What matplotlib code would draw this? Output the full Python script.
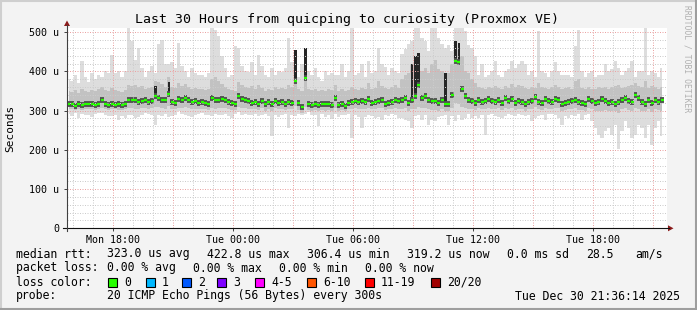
import matplotlib
matplotlib.use('Agg')
import matplotlib.pyplot as plt
import matplotlib.dates as mdates
from matplotlib.patches import Rectangle, Polygon
from matplotlib.lines import Line2D
from matplotlib.ticker import FixedLocator, FuncFormatter
import numpy as np
import pandas as pd

# ---- data (10 minute steps, microseconds) ----
start = pd.Timestamp('2025-12-29 15:42')
step_min = 10

median = [318, 316, 313, 317, 315, 318, 316, 317, 315, 317,
          326, 317, 315, 316, 315, 316, 314, 318, 328, 327,
          326, 322, 325, 327, 323, 325, 337, 333, 328, 326,
          343, 322, 320, 330, 328, 333, 327, 322, 324, 320,
          322, 320, 318, 332, 326, 328, 330, 328, 322, 320,
          317, 337, 330, 328, 325, 320, 322, 318, 325, 316,
          322, 318, 325, 320, 323, 317, 322, 320, 375, 320,
          309, 383, 318, 315, 316, 314, 317, 316, 318, 315,
          331, 314, 316, 313, 320, 322, 324, 322, 324, 321,
          330, 320, 322, 325, 328, 318, 320, 323, 328, 324,
          326, 332, 320, 328, 337, 366, 332, 337, 328, 325,
          324, 320, 326, 316, 318, 340, 426, 424, 354, 337,
          328, 324, 320, 326, 322, 325, 330, 324, 322, 326,
          320, 332, 325, 330, 320, 324, 322, 318, 322, 325,
          334, 322, 320, 330, 325, 322, 330, 328, 318, 320,
          322, 324, 328, 322, 320, 318, 330, 324, 320, 322,
          330, 325, 320, 322, 318, 322, 328, 332, 325, 322,
          341, 333, 322, 318, 328, 320, 326, 322, 326]

smoke_max = [380, 375, 392, 370, 426, 385, 372, 395, 380, 390,
             385, 400, 395, 443, 395, 400, 385, 400, 511, 478,
             430, 460, 408, 385, 400, 415, 395, 470, 480, 420,
             418, 425, 410, 472, 415, 400, 385, 410, 395, 390,
             392, 385, 395, 511, 505, 490, 440, 410, 385, 390,
             465, 460, 415, 400, 398, 425, 392, 443, 415, 390,
             385, 410, 392, 400, 398, 410, 485, 425, 450, 385,
             418, 460, 400, 392, 410, 385, 375, 400, 390, 395,
             392, 390, 418, 385, 400, 511, 392, 395, 418, 385,
             426, 395, 400, 460, 418, 412, 392, 410, 400, 395,
             445, 456, 470, 477, 511, 511, 485, 477, 452, 511,
             511, 485, 470, 460, 468, 452, 511, 511, 511, 502,
             468, 460, 440, 392, 418, 385, 390, 400, 426, 392,
             385, 400, 405, 426, 410, 418, 426, 418, 392, 400,
             385, 502, 400, 395, 385, 400, 425, 400, 392, 390,
             392, 385, 464, 505, 400, 385, 395, 400, 385, 392,
             392, 418, 400, 405, 426, 410, 392, 400, 410, 426,
             385, 400, 400, 511, 392, 400, 395, 385, 410]

smoke_min = [292, 287, 294, 281, 292, 289, 290, 283, 292, 295,
             293, 290, 287, 286, 290, 277, 287, 282, 288, 290,
             282, 284, 290, 294, 292, 290, 264, 290, 287, 292,
             285, 286, 290, 298, 292, 290, 287, 284, 288, 292,
             294, 290, 288, 286, 292, 289, 290, 292, 287, 281,
             292, 296, 290, 292, 288, 290, 292, 287, 290, 292,
             286, 235, 288, 285, 290, 292, 256, 290, 286, 292,
             290, 292, 296, 290, 288, 260, 292, 285, 290, 278,
             292, 284, 290, 288, 292, 230, 290, 285, 256, 284,
             290, 287, 282, 283, 277, 290, 286, 292, 289, 281,
             281, 276, 273, 256, 287, 290, 277, 290, 264, 277,
             273, 285, 287, 290, 264, 286, 273, 290, 277, 281,
             292, 281, 287, 281, 288, 239, 290, 292, 287, 285,
             281, 286, 292, 290, 286, 292, 290, 286, 290, 273,
             281, 286, 290, 277, 292, 292, 290, 281, 264, 286,
             281, 290, 286, 292, 277, 290, 292, 273, 256, 239,
             230, 247, 256, 239, 264, 201, 247, 273, 256, 230,
             239, 264, 256, 230, 264, 213, 256, 273, 235]

smoke_hi = [350, 348, 352, 345, 355, 350, 348, 352, 350, 355,
            360, 352, 350, 358, 352, 350, 348, 352, 365, 362,
            365, 360, 362, 355, 358, 360, 375, 372, 368, 360,
            385, 360, 358, 370, 362, 368, 360, 355, 358, 355,
            355, 352, 356, 380, 385, 375, 368, 360, 355, 352,
            350, 372, 365, 360, 358, 362, 355, 365, 358, 350,
            355, 352, 360, 356, 358, 355, 365, 360, 450, 355,
            350, 456, 355, 352, 355, 350, 352, 350, 355, 352,
            365, 350, 355, 350, 352, 360, 355, 352, 358, 356,
            370, 355, 358, 375, 362, 358, 355, 360, 365, 358,
            380, 390, 395, 420, 440, 445, 400, 410, 395, 420,
            430, 405, 400, 390, 395, 420, 455, 455, 440, 400,
            395, 380, 370, 360, 358, 355, 360, 358, 362, 358,
            355, 362, 358, 368, 360, 365, 362, 358, 355, 360,
            358, 370, 360, 358, 355, 360, 365, 360, 355, 358,
            360, 355, 375, 380, 358, 355, 360, 356, 355, 360,
            358, 360, 355, 360, 362, 365, 358, 360, 362, 365,
            370, 362, 360, 375, 358, 362, 360, 356, 360]

smoke_lo = [305, 303, 301, 304, 302, 305, 303, 304, 302, 305,
            306, 303, 302, 304, 303, 302, 301, 304, 307, 306,
            305, 304, 306, 307, 305, 306, 310, 309, 306, 305,
            312, 305, 304, 308, 307, 309, 306, 304, 305, 303,
            304, 303, 302, 306, 305, 306, 307, 306, 304, 302,
            301, 309, 307, 306, 305, 303, 304, 302, 306, 300,
            304, 300, 306, 303, 305, 301, 303, 304, 312, 302,
            295, 310, 302, 300, 301, 299, 302, 300, 302, 300,
            308, 299, 301, 298, 303, 304, 306, 305, 305, 304,
            308, 303, 304, 306, 307, 301, 303, 305, 307, 305,
            305, 306, 300, 303, 305, 310, 306, 308, 303, 302,
            302, 300, 303, 298, 300, 308, 320, 318, 310, 306,
            305, 304, 302, 306, 303, 305, 307, 304, 303, 306,
            302, 308, 305, 307, 302, 304, 303, 300, 303, 305,
            310, 303, 302, 308, 305, 303, 307, 306, 300, 302,
            303, 304, 306, 302, 301, 300, 306, 304, 300, 298,
            300, 302, 298, 300, 299, 295, 303, 306, 302, 298,
            308, 304, 300, 298, 304, 296, 303, 301, 300]

# dark columns where most pings were slow (interval index -> top)
dark_spikes = {26: 362, 30: 372, 68: 455, 71: 460, 103: 420, 104: 440,
               105: 448, 113: 395, 116: 478, 117: 472}

loss_labels = ['0', '1', '2', '3', '4-5', '6-10', '11-19', '20/20']
loss_colors = ['#26ff00', '#00b8ff', '#0059ff', '#7e00ff',
               '#ff00ff', '#ff5500', '#ff0000', '#a10000']

# ---- figure ----
W, H = 697, 310
mono = 'DejaVu Sans Mono'
plt.rcParams['font.family'] = mono

fig = plt.figure(figsize=(W / 100, H / 100), dpi=100, facecolor='#f3f3f3')


def fx(x):
    return x / W


def fy(y):
    return 1 - y / H


ax = fig.add_axes([fx(67), fy(228.3), 600 / W, 200 / H])
ax.set_facecolor('white')
for s in ax.spines.values():
    s.set_visible(False)

n = len(median)
times = start + pd.to_timedelta(np.arange(n) * step_min + step_min / 2, unit='min')
t = mdates.date2num(times.to_pydatetime())
half = step_min / 2 / 1440.0
end = start + pd.Timedelta(hours=30)
ax.set_xlim(mdates.date2num(start.to_pydatetime()), mdates.date2num(end.to_pydatetime()))
ax.set_ylim(0, 510)

# smoke
ax.fill_between(t, smoke_min, smoke_max, step='mid', color='#dddddd', lw=0, zorder=1)
ax.fill_between(t, smoke_lo, smoke_hi, step='mid', color='#c2c2c2', lw=0, zorder=2)
for i, top in dark_spikes.items():
    ax.bar(t[i], top - median[i], bottom=median[i], width=half * 1.4,
           color='#262626', lw=0, zorder=3)
ax.hlines(median, t - half, t + half, color='#505050', lw=4.2, zorder=3)

# grid (dotted, on top of smoke)
for h in pd.date_range(start.ceil('h'), end, freq='h'):
    c = '#eba3a3' if h.hour % 3 == 0 else '#cccccc'
    ax.axvline(mdates.date2num(h.to_pydatetime()), color=c, lw=0.72,
               ls=(0, (1, 1.5)), zorder=4)
for v in range(20, 511, 20):
    c = '#eba3a3' if v % 100 == 0 else '#cccccc'
    ax.axhline(v, color=c, lw=0.72, ls=(0, (1, 1.5)), zorder=4)

# median (coloured by loss: all 0 here)
ax.hlines(median, t - half * 0.9, t + half * 0.9, color=loss_colors[0], lw=1.6, zorder=5)

# ticks
ax.xaxis.set_major_locator(mdates.HourLocator(byhour=[0, 6, 12, 18]))
ax.xaxis.set_major_formatter(mdates.DateFormatter('%a %H:%M'))
ax.yaxis.set_major_locator(FixedLocator([0, 100, 200, 300, 400, 500]))
ax.yaxis.set_major_formatter(FuncFormatter(lambda v, p: '0' if v == 0 else f'{int(v)} u'))
ax.tick_params(axis='both', labelsize=7.2, length=2.2, width=0.7, color='#404040')
ax.tick_params(axis='x', pad=2.5)
ax.tick_params(axis='y', pad=3.5)

# axis lines with arrows
fig.add_artist(Line2D([fx(63), fx(669)], [fy(228.3), fy(228.3)], color='#101010', lw=0.8))
fig.add_artist(Line2D([fx(67), fx(67)], [fy(231), fy(25)], color='#404040', lw=0.8))
fig.add_artist(Polygon([(fx(668), fy(225.3)), (fx(673.5), fy(228.3)), (fx(668), fy(231.3))],
                       closed=True, color='#8b1a1a', lw=0))
fig.add_artist(Polygon([(fx(64), fy(26)), (fx(67), fy(20.5)), (fx(70), fy(26))],
                       closed=True, color='#8b1a1a', lw=0))

# texts
fig.text(fx(347), fy(19.3), 'Last 30 Hours from quicping to curiosity (Proxmox VE)',
         ha='center', va='center', fontsize=9.5)
fig.text(fx(10), fy(128), 'Seconds', rotation=90, ha='center', va='center', fontsize=8)
fig.text(fx(687.5), fy(5), 'RRDTOOL / TOBI OETIKER', rotation=270, ha='center', va='top',
         fontsize=5.8, color='#b0b0b0')

fs = 8.3
row1 = [(16, 'median rtt:'), (107, '323.0 us avg'), (207, '422.8 us max'),
        (307, '306.4 us min'), (407, '319.2 us now'), (507, '0.0 ms sd'),
        (586, '28.5'), (635, 'am/s')]
row2 = [(16, 'packet loss:'), (107, '0.00 % avg'), (193, '0.00 % max'),
        (279, '0.00 % min'), (365, '0.00 % now')]
for x, s in row1:
    fig.text(fx(x), fy(254), s, ha='left', va='center', fontsize=fs)
for x, s in row2:
    fig.text(fx(x), fy(268), s, ha='left', va='center', fontsize=fs)

fig.text(fx(16), fy(282), 'loss color:', ha='left', va='center', fontsize=fs)
box_x = [108, 146, 182, 217, 255, 307, 365, 431]
for bx, lab, col in zip(box_x, loss_labels, loss_colors):
    fig.add_artist(Rectangle((fx(bx), fy(286.5)), 9 / W, 9 / H, facecolor=col,
                             edgecolor='black', lw=0.8, transform=fig.transFigure))
    fig.text(fx(bx + 16), fy(282), lab, ha='left', va='center', fontsize=fs)

fig.text(fx(16), fy(296), 'probe:', ha='left', va='center', fontsize=fs)
fig.text(fx(107), fy(296), '20 ICMP Echo Pings (56 Bytes) every 300s', ha='left',
         va='center', fontsize=fs)
fig.text(fx(680), fy(296), 'Tue Dec 30 21:36:14 2025', ha='right', va='center', fontsize=fs)

# frame shading
fig.add_artist(Line2D([fx(0.5), fx(0.5)], [fy(0), fy(310)], color='#cfcfcf', lw=1.5))
fig.add_artist(Line2D([fx(0), fx(697)], [fy(0.5), fy(0.5)], color='#cfcfcf', lw=1.5))
fig.add_artist(Line2D([fx(696), fx(696)], [fy(0), fy(310)], color='#9e9e9e', lw=1.5))
fig.add_artist(Line2D([fx(0), fx(697)], [fy(309), fy(309)], color='#9e9e9e', lw=1.5))

fig.savefig('out.png', dpi=100, facecolor=fig.get_facecolor())
